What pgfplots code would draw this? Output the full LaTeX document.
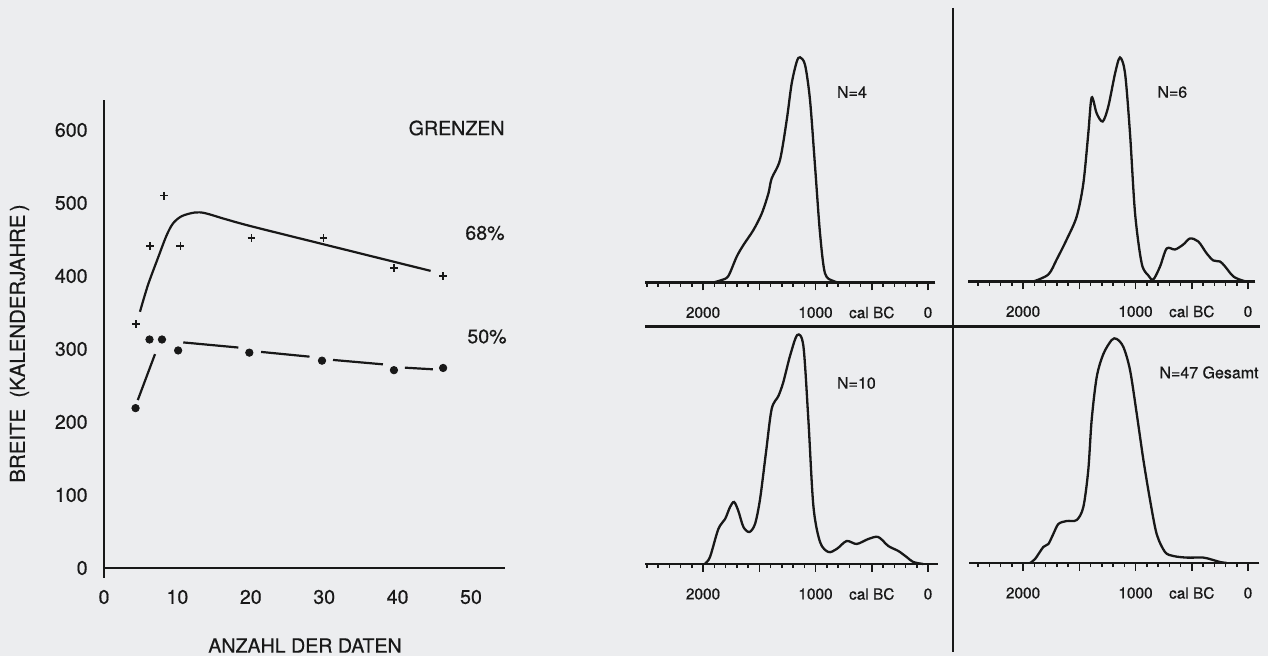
\documentclass[border=0pt]{standalone}
\usepackage{pgfplots}
\pgfplotsset{compat=1.18}
\usepackage{fontspec}
\setmainfont{TeX Gyre Heros}[FakeBold=0.5,UprightFeatures={FakeBold=0.5}]

\definecolor{paper}{RGB}{236,237,239}
\definecolor{ink}{RGB}{24,24,24}

\newcommand{\leftfont}{\fontsize{9.8}{11}\selectfont}
\newcommand{\tickfont}{\fontsize{7.7}{9}\selectfont}
\newcommand{\nfont}{\fontsize{8}{9.5}\selectfont}

\tikzset{nlabel/.style={anchor=west, inner sep=0pt, font=\nfont, text=ink}}

\pgfplotsset{
  density/.style={
    x=0.05625pt, y=0.5pt, x dir=reverse,
    ymin=0, ymax=240,
    axis x line=bottom, axis y line=none,
    axis line style={-, line width=1.05pt, ink},
    xtick={0,500,1000,1500,2000},
    xticklabels={0,cal BC,1000,,2000},
    minor xtick={100,200,...,2500},
    tick align=outside,
    major tick length=4pt, minor tick length=2.1pt,
    tick style={line width=0.75pt, ink},
    xticklabel style={anchor=center, yshift=-11pt, font=\tickfont, text=ink, inner sep=0pt},
    ytick=\empty,
    clip=false, anchor=origin,
  },
  curve/.style={ink, line width=1.15pt, smooth, tension=0.5, no marks},
}

\begin{document}
\begin{tikzpicture}
\fill[paper] (0,0) rectangle (634pt,-328pt);

% ---------------- Breite der Grenzen gegen Anzahl der Daten ----------------
\begin{axis}[
  at={(52pt,-284pt)}, anchor=origin,
  x=3.67pt, y=0.365pt,
  xmin=0, xmax=54.6, ymin=0, ymax=641,
  axis x line=bottom, axis y line=left,
  axis line style={-, line width=1.4pt, ink},
  xtick={0,10,20,30,40,50}, ytick={0,100,200,300,400,500,600},
  major tick length=0pt,
  /pgf/number format/assume math mode=true,
  ticklabel style={font=\leftfont, text=ink, inner sep=0pt},
  xticklabel style={anchor=center, yshift=-14.5pt},
  yticklabel style={anchor=east, xshift=-8pt},
  clip=false,
]
\draw[ink, line width=1.4pt] (axis cs:0,0) -- (axis cs:0,-14);

% 68 % Grenze
\addplot[ink, line width=1.1pt, smooth, tension=0.5] coordinates {
  (4.9,351) (6.0,388) (7.4,426) (8.5,455) (9.4,472) (10.6,482)
  (12.4,487) (13.8,486) (16.5,478) (20.1,468) (30,443.2) (44.5,407)};
\addplot[only marks, mark=+, mark size=1.95pt, ink, line width=0.8pt] coordinates {
  (4.4,334) (6.3,441) (8.2,510) (10.4,441) (20.1,452) (29.9,452) (39.5,411) (46.2,400)};

% 50 % Grenze
\addplot[ink, line width=1.1pt] coordinates {(4.6,230) (6.95,293)};
\addplot[ink, line width=1.1pt] coordinates {(10.8,309) (18.3,302)};
\addplot[ink, line width=1.1pt] coordinates {(21.4,296) (28.0,289.5)};
\addplot[ink, line width=1.1pt] coordinates {(31.2,285) (38.0,279)};
\addplot[ink, line width=1.1pt] coordinates {(41.0,274.4) (44.8,272.2)};
\addplot[only marks, mark=*, mark size=1.85pt, ink] coordinates {
  (4.3,219) (6.2,313) (7.9,313) (10.1,298) (19.8,295) (29.7,284) (39.5,271) (46.2,274)};
\end{axis}

\node[anchor=east, inner sep=0pt, font=\leftfont, text=ink] at (252.5pt,-64pt) {GRENZEN};
\node[anchor=east, inner sep=0pt, font=\leftfont, text=ink] at (252.5pt,-116.5pt) {68\%};
\node[anchor=east, inner sep=0pt, font=\leftfont, text=ink] at (253.5pt,-168.25pt) {50\%};
\node[inner sep=0pt, font=\leftfont, text=ink] at (152.5pt,-322.75pt) {ANZAHL DER DATEN};
\node[inner sep=0pt, font=\fontsize{10.2}{12}\selectfont, text=ink, rotate=90] at (9.75pt,-171.75pt) {BREITE\ \ (KALENDERJAHRE\,)};

% ---------------- Summenkurven der kalibrierten Daten ----------------
\draw[ink, line width=1.4pt] (476.5pt,-4pt) -- (476.5pt,-326pt);
\draw[ink, line width=1.5pt] (322.5pt,-163.25pt) -- (630pt,-163.25pt);

% N = 4
\begin{axis}[density, at={(464pt,-141.25pt)}, xmin=-65, xmax=2515]
\addplot[curve] coordinates {
  (1908,0) (1834,2.5) (1775,6.5) (1701,25.8) (1641,37.5) (1552,52.5) (1478,69)
  (1419,89) (1390,104) (1316,122.5) (1256,162.5) (1212,199) (1167,220.8)
  (1138,225.2) (1093,217.5) (1049,182.5) (1004,115.8) (960,49.2) (916,9.2)
  (842,1.5) (782,0)};
\node[nlabel] at (axis cs:812,190.5) {N=4};
\end{axis}

% N = 6
\begin{axis}[density, at={(624pt,-140.75pt)}, xmin=-65, xmax=2490]
\addplot[curve] coordinates {
  (1908,0) (1775,7) (1701,22) (1612,42) (1523,65) (1464,98) (1420,148)
  (1390,184) (1345,168) (1292,160) (1242,175) (1182,208) (1138,224)
  (1093,208) (1049,148) (1004,68) (945,18) (886,6) (842,2) (782,15)
  (723,33) (649,32) (575,37) (516,43) (442,40) (367,28) (308,21) (249,20)
  (204,15) (130,5) (42,0.7) (0,0)};
\node[nlabel] at (axis cs:809,189.5) {N=6};
\end{axis}

% N = 10
\begin{axis}[density, at={(464pt,-282pt)}, xmin=-85, xmax=2515]
\addplot[curve] coordinates {
  (1982,0.7) (1938,7) (1864,35) (1804,45) (1760,57) (1724,62) (1686,53)
  (1641,37) (1588,32) (1538,40) (1493,65) (1440,112) (1390,155) (1330,168)
  (1286,182) (1227,208) (1162,229) (1108,218) (1064,145) (1019,58) (960,22)
  (886,12) (812,15) (723,23) (634,20) (531,25) (442,27) (353,18) (264,13)
  (190,7) (131,2) (42,0)};
\node[nlabel] at (axis cs:812,181) {N=10};
\end{axis}

% N = 47, gesamt
\begin{axis}[density, at={(624pt,-281.5pt)}, xmin=-100, xmax=2485]
\addplot[curve] coordinates {
  (1938,0) (1893,4) (1820,16) (1775,19) (1731,29) (1686,39) (1612,42)
  (1523,43) (1464,56) (1420,93) (1390,143) (1345,186) (1286,209) (1212,223)
  (1167,224) (1108,216) (1049,193) (989,149) (930,103) (871,63) (812,29)
  (738,11) (664,7) (545,5.4) (397,5.4) (323,3.4) (249,1) (189,0)};
\node[nlabel] at (axis cs:791,190.5) {N=47 Gesamt};
\end{axis}

\pgfresetboundingbox
\useasboundingbox (0,0) rectangle (634pt,-328pt);
\end{tikzpicture}
\end{document}
